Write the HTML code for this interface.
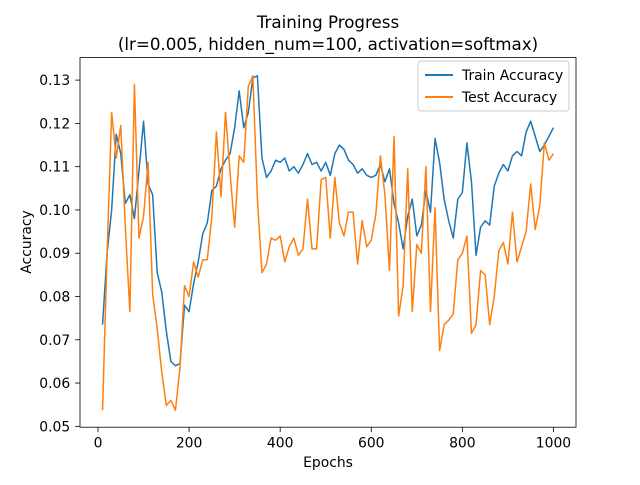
<!DOCTYPE html>
<html><head><meta charset="utf-8"><style>
body{margin:0;background:#fff;}
svg text{font-family:"DejaVu Sans","Liberation Sans",sans-serif;fill:#000;}
</style></head><body>
<svg id="chart" width="640" height="480" xmlns="http://www.w3.org/2000/svg">
<rect width="640" height="480" fill="#fff"/>
<text x="328" y="28" font-size="16.7" text-anchor="middle">Training Progress</text>
<text x="328" y="50" font-size="16.7" text-anchor="middle">(lr=0.005, hidden_num=100, activation=softmax)</text>
<g id="plot"></g>
<text x="328" y="467" font-size="13.9" text-anchor="middle">Epochs</text>
<text x="0" y="0" font-size="13.9" text-anchor="middle" transform="translate(31,242) rotate(-90)">Accuracy</text>
<g>
<rect x="418" y="61" width="151" height="50" rx="3" fill="#fff" stroke="#ccc" stroke-width="1"/>
<line x1="425" y1="75" x2="453" y2="75" stroke="#1f77b4" stroke-width="2"/>
<text x="462" y="80" font-size="13.9">Train Accuracy</text>
<line x1="425" y1="97" x2="453" y2="97" stroke="#ff7f0e" stroke-width="2"/>
<text x="462" y="102" font-size="13.9">Test Accuracy</text>
</g>
</svg>
<script>
const trainAcc=[0.0735,0.090,0.100,0.1175,0.113,0.1015,0.1035,0.098,0.109,0.1205,0.106,0.1035,0.0855,0.081,0.072,0.065,0.064,0.0645,0.078,0.0765,0.083,0.088,0.0945,0.097,0.1045,0.1055,0.1095,0.1115,0.113,0.119,0.1275,0.119,0.1225,0.1305,0.131,0.112,0.1075,0.109,0.1115,0.111,0.112,0.109,0.110,0.1085,0.1105,0.113,0.1105,0.111,0.109,0.111,0.108,0.113,0.115,0.114,0.1115,0.1105,0.1085,0.1095,0.108,0.1075,0.108,0.1105,0.1065,0.1095,0.1015,0.097,0.091,0.0985,0.1025,0.094,0.0965,0.1045,0.0995,0.1165,0.111,0.1025,0.0975,0.0935,0.1025,0.104,0.1155,0.1065,0.0895,0.096,0.0975,0.0965,0.1055,0.1085,0.1105,0.109,0.1125,0.1135,0.1125,0.118,0.1205,0.117,0.1135,0.115,0.117,0.119];
const testAcc=[0.0537,0.090,0.1225,0.112,0.1195,0.096,0.0765,0.129,0.0935,0.0985,0.111,0.0805,0.0725,0.0625,0.0548,0.056,0.0537,0.0635,0.0825,0.080,0.088,0.0845,0.0885,0.0885,0.0985,0.118,0.103,0.1225,0.1085,0.096,0.1125,0.111,0.1285,0.131,0.1025,0.0855,0.0875,0.0935,0.093,0.094,0.088,0.0915,0.0935,0.0895,0.091,0.1025,0.091,0.091,0.107,0.1075,0.0935,0.1075,0.097,0.094,0.0995,0.0995,0.0875,0.0975,0.0915,0.093,0.099,0.1125,0.1035,0.086,0.117,0.0755,0.0825,0.1095,0.0765,0.092,0.090,0.110,0.0765,0.1005,0.0675,0.0735,0.0745,0.076,0.0885,0.090,0.094,0.0715,0.0735,0.086,0.085,0.0735,0.080,0.0905,0.0925,0.0875,0.0995,0.088,0.0915,0.095,0.106,0.0955,0.101,0.1155,0.1115,0.113];
const epochs=trainAcc.map((_,i)=>(i+1)*10);
const xTicks=[0,200,400,600,800,1000];
const yTicks=[0.05,0.06,0.07,0.08,0.09,0.10,0.11,0.12,0.13];
const yTickLabels=["0.05","0.06","0.07","0.08","0.09","0.10","0.11","0.12","0.13"];

const L=80,R=576,T=57.6,B=427.2;
const xmin=-39.5,xmax=1049.5,ymin=0.0498,ymax=0.1352;
const xs=v=>L+(v-xmin)/(xmax-xmin)*(R-L);
const ys=v=>B-(v-ymin)/(ymax-ymin)*(B-T);
const NS="http://www.w3.org/2000/svg";
const g=document.getElementById('plot');
function mk(tag,attrs){const e=document.createElementNS(NS,tag);for(const k in attrs)e.setAttribute(k,attrs[k]);g.appendChild(e);return e;}
function line(pts,color,name){
  const e=mk('polyline',{points:pts.join(' '),fill:'none',stroke:color,'stroke-width':1.5,'stroke-linejoin':'round'});
  
  
}
line(epochs.map((x,i)=>xs(x).toFixed(2)+','+ys(trainAcc[i]).toFixed(2)),'#1f77b4','train-accuracy-line');
line(epochs.map((x,i)=>xs(x).toFixed(2)+','+ys(testAcc[i]).toFixed(2)),'#ff7f0e','test-accuracy-line');
const frame=mk('rect',{x:L,y:T,width:R-L,height:B-T,fill:'none',stroke:'#000','stroke-width':0.8});


xTicks.forEach(t=>{
  const x=xs(t);
  mk('line',{x1:x,y1:B,x2:x,y2:B+4.9,stroke:'#000','stroke-width':0.8});
  const tx=mk('text',{x:x,y:B+20.5,'font-size':13.9,'text-anchor':'middle'});
  tx.textContent=String(t);
  
  
});
yTicks.forEach((t,i)=>{
  const y=ys(t);
  mk('line',{x1:L-4.9,y1:y,x2:L,y2:y,stroke:'#000','stroke-width':0.8});
  const tx=mk('text',{x:L-9.8,y:y+5,'font-size':13.9,'text-anchor':'end'});
  tx.textContent=yTickLabels[i];
  
  
});
</script>
</body></html>
